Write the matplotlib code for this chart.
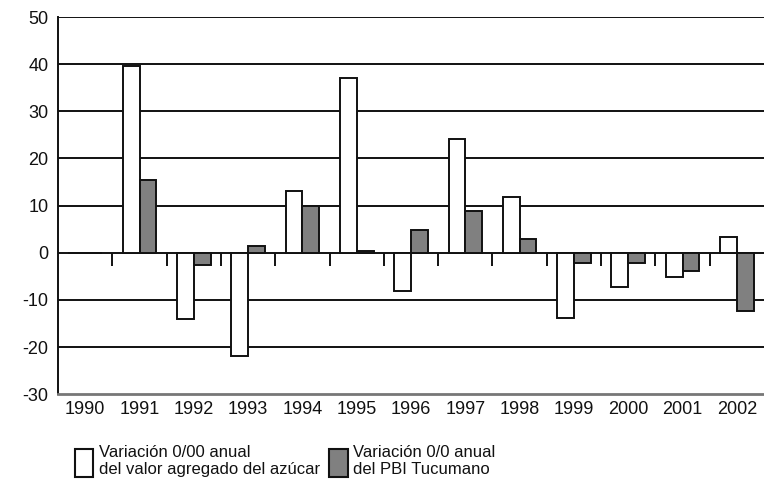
import numpy as np
import matplotlib.pyplot as plt
from matplotlib.patches import Rectangle

plt.rcParams['font.family'] = ['Liberation Sans', 'DejaVu Sans']
plt.rcParams['axes.unicode_minus'] = False

years = ['1990', '1991', '1992', '1993', '1994', '1995', '1996',
         '1997', '1998', '1999', '2000', '2001', '2002']
azucar = [0, 39.6, -14.0, -22.0, 13.0, 37.1, -8.1, 24.2, 11.9, -13.8, -7.3, -5.1, 3.3]
pbi = [0, 15.5, -2.5, 1.4, 10.0, 0.3, 4.9, 8.8, 3.0, -2.2, -2.2, -3.8, -12.3]
legend_labels = ['Variación 0/00 anual\ndel valor agregado del azúcar',
                 'Variación 0/0 anual\ndel PBI Tucumano']

fig = plt.figure(figsize=(7.64, 4.86), dpi=100)
ax = fig.add_axes([0.076, 0.189, 0.924, 0.776])

x = np.arange(len(years))
w = 0.31
ax.bar(x - w / 2, azucar, w, color='white', edgecolor='#111111', linewidth=1.4, zorder=3)
ax.bar(x + w / 2, pbi, w, color='#808080', edgecolor='#111111', linewidth=1.4, zorder=3)

for v in range(-20, 60, 10):
    ax.axhline(v, color='#111111', linewidth=1.4, zorder=1)
# short ticks below the zero line at category boundaries
ax.vlines(x[:-1] + 0.5, -2.8, 0, color='#111111', linewidth=1.4, zorder=2)

ax.set_xlim(-0.5, len(years) - 0.5)
ax.set_ylim(-30, 50)
ax.set_yticks(range(-30, 60, 10))
ax.set_xticks(x)
ax.set_xticklabels(years)
ax.tick_params(axis='both', length=0, labelsize=13, colors='#111111')
ax.tick_params(axis='x', pad=5)
ax.tick_params(axis='y', pad=7)

for s in ['top', 'right']:
    ax.spines[s].set_visible(False)
ax.spines['left'].set_color('#111111')
ax.spines['left'].set_linewidth(1.4)
ax.spines['bottom'].set_color('#777777')
ax.spines['bottom'].set_linewidth(2)

# legend below the chart
fig.patches.append(Rectangle((0.098, 0.018), 0.024, 0.058, transform=fig.transFigure,
                             facecolor='white', edgecolor='#111111', linewidth=1.5))
fig.text(0.129, 0.052, legend_labels[0], fontsize=12, va='center', linespacing=1.2, color='#111111')
fig.patches.append(Rectangle((0.430, 0.018), 0.026, 0.058, transform=fig.transFigure,
                             facecolor='#808080', edgecolor='#111111', linewidth=1.5))
fig.text(0.462, 0.052, legend_labels[1], fontsize=12, va='center', linespacing=1.2, color='#111111')

fig.savefig('out.png', dpi=100)
